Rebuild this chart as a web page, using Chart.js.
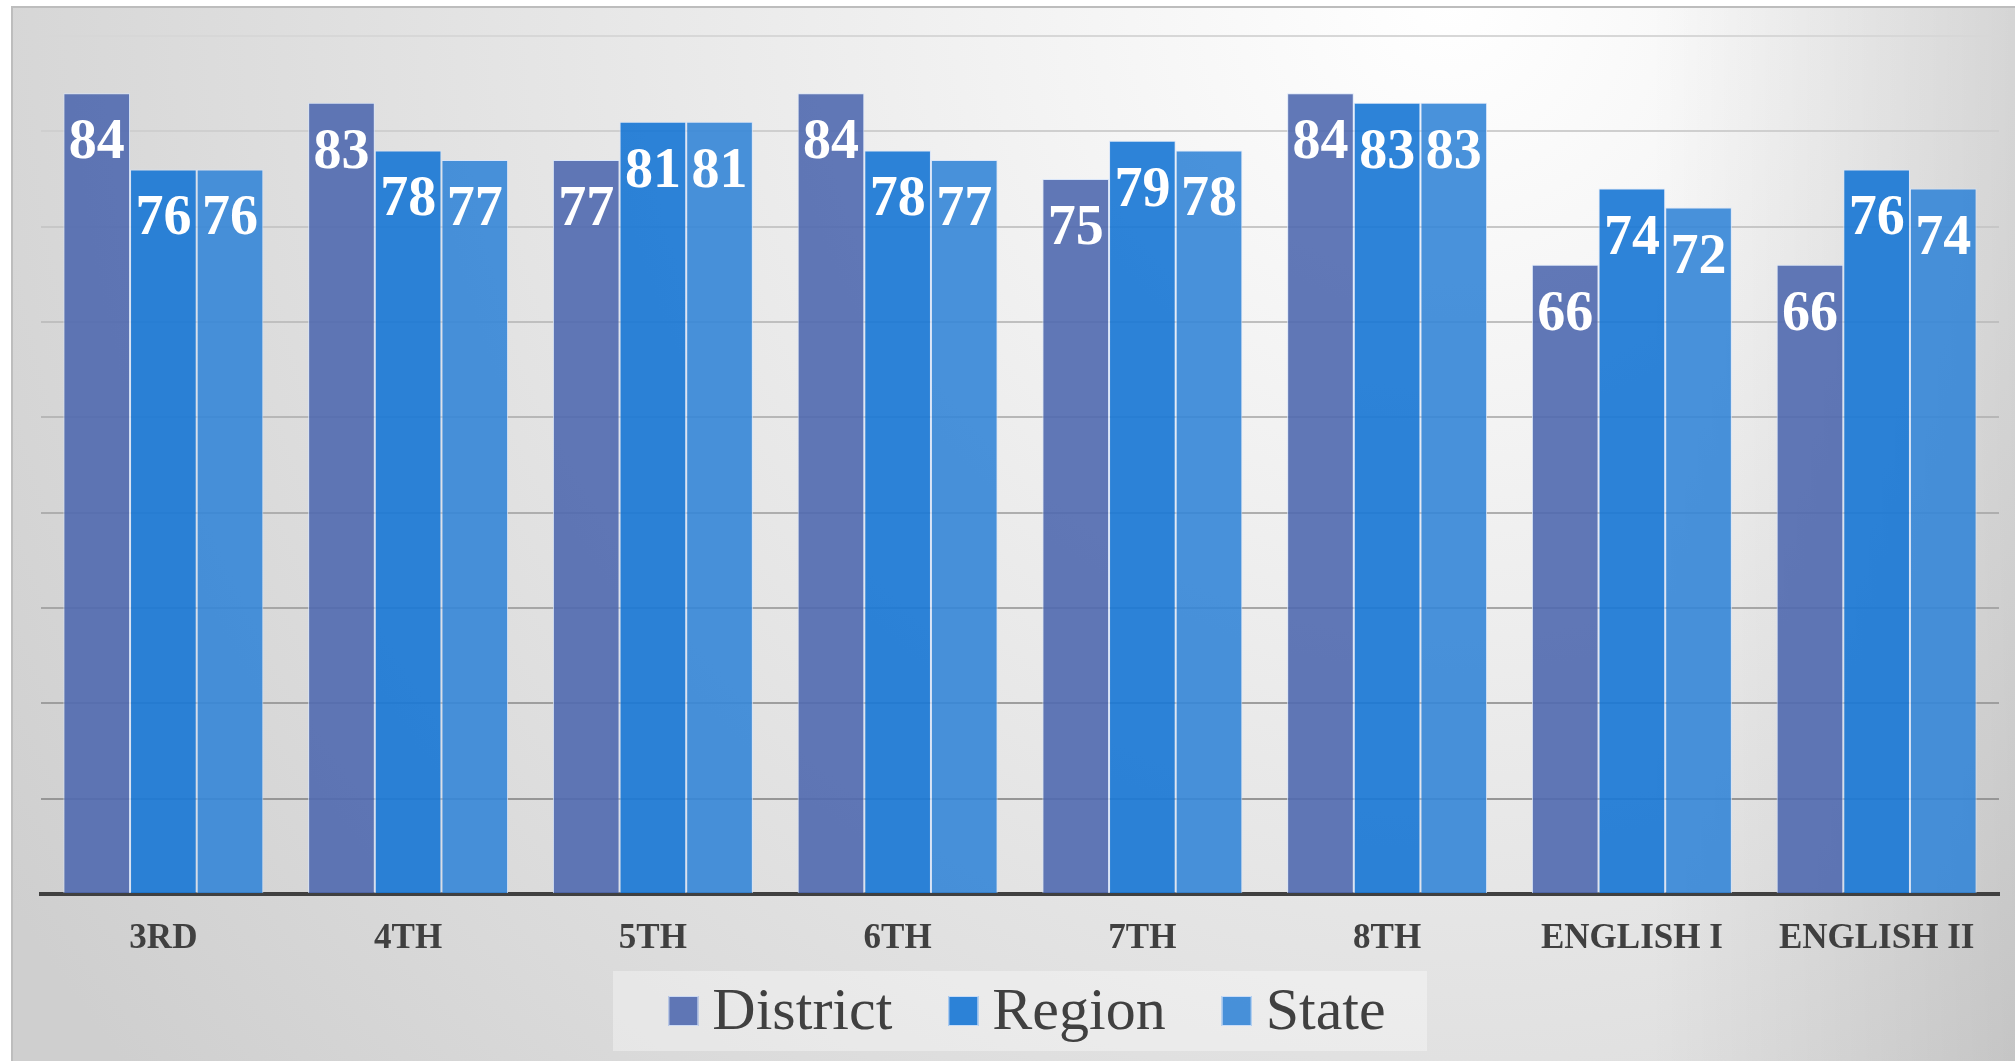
<!DOCTYPE html>
<html>
<head>
<meta charset="utf-8">
<title>Scores by grade</title>
<script src="https://cdn.jsdelivr.net/npm/chart.js@4.4.1/dist/chart.umd.min.js"></script>
<style>
  html, body { margin: 0; padding: 0; background: #ffffff; overflow: hidden; }
  canvas { display: block; }
</style>
</head>
<body>
<canvas id="scoresChart" width="2015" height="1061"></canvas>
<script>
const categories = ["3RD", "4TH", "5TH", "6TH", "7TH", "8TH", "ENGLISH I", "ENGLISH II"];
const districtScores = [84, 83, 77, 84, 75, 84, 66, 66];
const regionScores = [76, 78, 81, 78, 79, 83, 74, 76];
const stateScores = [76, 77, 81, 77, 78, 83, 72, 74];
const seriesNames = ["District", "Region", "State"];
const axisMin = 0;
const axisMax = 90;
const axisStep = 10;

const serif = '"Liberation Serif", "DejaVu Serif", serif';

// panel behind the chart: white page, grey frame, soft light in the upper right
const backdrop = {
  id: "backdrop",
  beforeDraw(chart) {
    const ctx = chart.ctx;
    const w = chart.width, h = chart.height;
    ctx.save();
    ctx.fillStyle = "#ffffff";
    ctx.fillRect(0, 0, w, h);

    const g = ctx.createRadialGradient(1450, 0, 0, 1450, 0, 1700);
    g.addColorStop(0, "#ffffff");
    g.addColorStop(1, "#cfcfcf");
    ctx.fillStyle = g;
    ctx.fillRect(12, 7, w - 12, h - 7);

    const edge = ctx.createLinearGradient(1650, 0, w, 0);
    edge.addColorStop(0, "rgba(0,0,0,0)");
    edge.addColorStop(1, "rgba(0,0,0,0.11)");
    ctx.fillStyle = edge;
    ctx.fillRect(1650, 7, w - 1650, h - 7);

    ctx.strokeStyle = "#bdbdbd";
    ctx.lineWidth = 2;
    ctx.beginPath();
    ctx.moveTo(12, h);
    ctx.lineTo(12, 7);
    ctx.lineTo(w, 7);
    ctx.stroke();
    ctx.restore();
  }
};

// white value labels inside the top of each bar
const valueLabels = {
  id: "valueLabels",
  afterDatasetsDraw(chart) {
    const ctx = chart.ctx;
    ctx.save();
    ctx.font = "bold 56px " + serif;
    ctx.fillStyle = "#ffffff";
    ctx.textAlign = "center";
    ctx.textBaseline = "alphabetic";
    chart.data.datasets.forEach((ds, i) => {
      chart.getDatasetMeta(i).data.forEach((bar, j) => {
        ctx.fillText(String(ds.data[j]), bar.x, bar.y + 65);
      });
    });
    ctx.restore();
  }
};

// legend in a lighter box under the axis labels
const legendBox = {
  id: "legendBox",
  afterDraw(chart) {
    const ctx = chart.ctx;
    const area = chart.chartArea;
    const center = (area.left + area.right) / 2;
    const boxSize = 30, boxGap = 14, itemGap = 56;
    ctx.save();
    ctx.fillStyle = "rgba(255,255,255,0.35)";
    ctx.fillRect(center - 407, 971, 814, 80);

    ctx.font = "60px " + serif;
    const items = chart.data.datasets.map(ds => ({
      text: ds.label,
      fill: ds.backgroundColor,
      stroke: ds.borderColor,
      width: ctx.measureText(ds.label).width
    }));
    const total = items.reduce((s, it) => s + boxSize + boxGap + it.width, 0) + itemGap * (items.length - 1);
    let x = center - total / 2 + 7;
    ctx.textBaseline = "alphabetic";
    ctx.textAlign = "left";
    items.forEach(it => {
      ctx.fillStyle = it.fill;
      ctx.fillRect(x, 996, boxSize, boxSize);
      ctx.strokeStyle = it.stroke;
      ctx.lineWidth = 1;
      ctx.strokeRect(x + 0.5, 996.5, boxSize - 1, boxSize - 1);
      ctx.fillStyle = "#404040";
      ctx.fillText(it.text, x + boxSize + boxGap, 1029);
      x += boxSize + boxGap + it.width + itemGap;
    });
    ctx.restore();
  }
};

function gridColor(context) {
  const v = context.tick ? context.tick.value : 0;
  const t = Math.min(1, Math.max(0, (v - 10) / 80));
  const c = Math.round(150 + t * 65);
  return "rgb(" + c + "," + c + "," + c + ")";
}

const ctx = document.getElementById("scoresChart").getContext("2d");
new Chart(ctx, {
  type: "bar",
  data: {
    labels: categories,
    datasets: [
      {
        label: seriesNames[0],
        data: districtScores,
        backgroundColor: "rgba(80,105,175,0.9)",
        borderColor: "rgba(215,228,250,0.9)",
        borderWidth: 1
      },
      {
        label: seriesNames[1],
        data: regionScores,
        backgroundColor: "rgba(27,120,213,0.92)",
        borderColor: "rgba(215,228,250,0.9)",
        borderWidth: 1
      },
      {
        label: seriesNames[2],
        data: stateScores,
        backgroundColor: "rgba(53,134,215,0.9)",
        borderColor: "rgba(215,228,250,0.9)",
        borderWidth: 1
      }
    ]
  },
  options: {
    responsive: false,
    animation: false,
    categoryPercentage: 0.817,
    barPercentage: 1.0,
    layout: { padding: { left: 41, right: 16, top: 36, bottom: 77 } },
    plugins: {
      legend: { display: false },
      tooltip: { enabled: false }
    },
    scales: {
      x: {
        grid: { display: false, drawTicks: false },
        border: { display: true, color: "#404040", width: 4 },
        ticks: {
          color: "#404040",
          padding: 24,
          font: { family: serif, size: 35, weight: "bold", lineHeight: 1.2 }
        }
      },
      y: {
        min: axisMin,
        max: axisMax,
        ticks: { display: false, stepSize: axisStep },
        grid: { color: gridColor, lineWidth: 2, drawTicks: false },
        border: { display: false }
      }
    }
  },
  plugins: [backdrop, valueLabels, legendBox]
});
</script>
</body>
</html>
